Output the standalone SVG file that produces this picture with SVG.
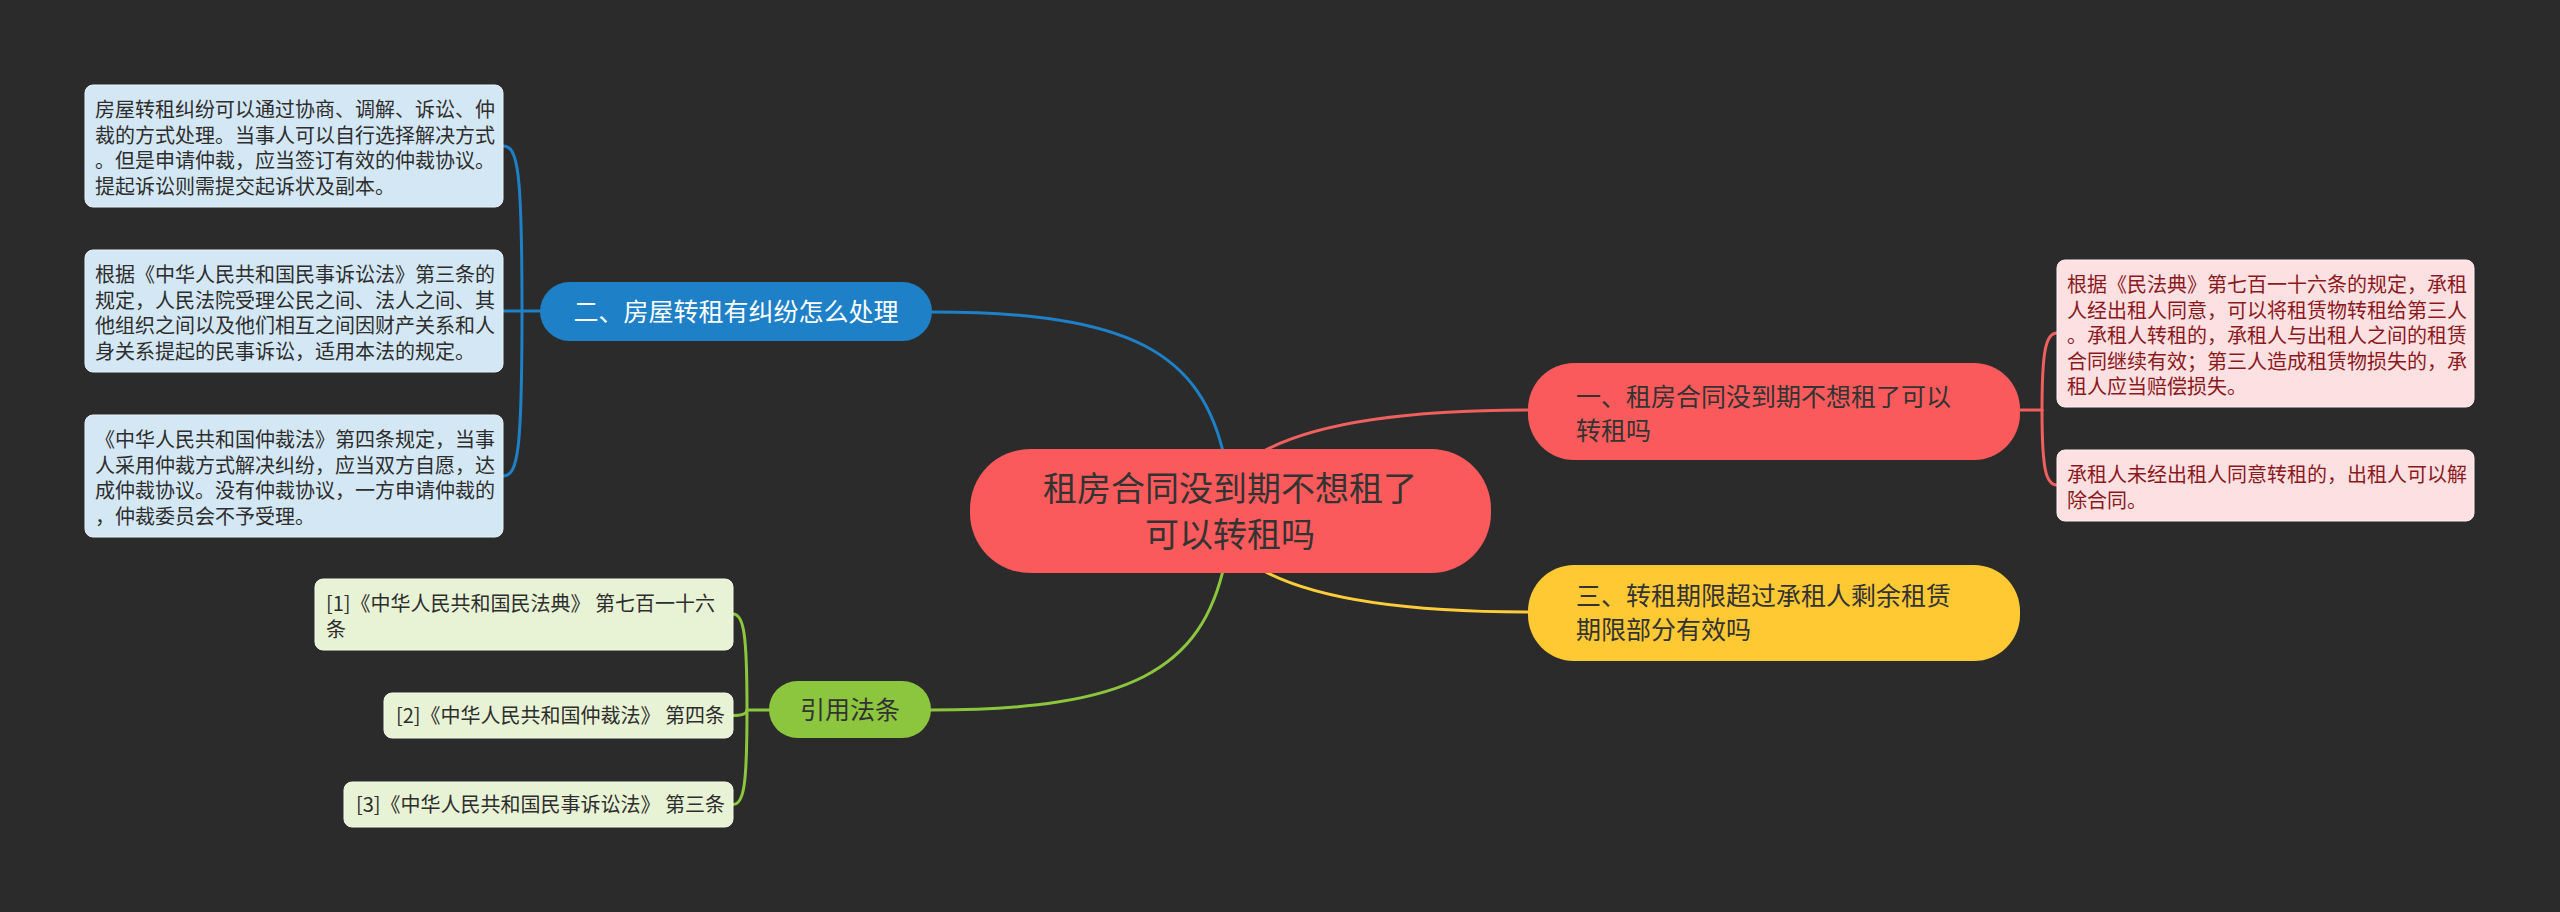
<svg xmlns="http://www.w3.org/2000/svg" width="2560" height="912" viewBox="0 0 2560 912">
<style>
text{font-family:"Noto Sans CJK SC","Noto Sans",sans-serif;}
.con{fill:none;stroke-width:3;stroke-linecap:round;}
.blue{stroke:#1e80c6;}
.red{stroke:#f0605f;}
.yel{stroke:#ffcd3a;}
.grn{stroke:#8cc63e;}
.dt{font-size:20px;fill:#2e2e2e;}
.rt{font-size:20px;fill:#8b1a1f;}
.bt{font-size:25px;}
.lb{fill:#d4e7f4;stroke:#eaf3fa;stroke-width:1;}
.pk{fill:#fde0e1;stroke:#fff0f0;stroke-width:1;}
.lg{fill:#e8f3d5;stroke:#f4f9ea;stroke-width:1;}
</style>
<rect width="2560" height="912" fill="#2b2b2b"/>
<g id="connectors">
<path class="con blue" d="M1225 460 C1202 352 1130 312 932 312"/>
<path class="con grn" d="M1225 562 C1202 670 1130 710 931 710"/>
<path class="con red" d="M1262 452 C1320 420 1420 410 1528 410"/>
<path class="con yel" d="M1262 570 C1320 602 1420 612 1528 612"/>
<path class="con blue" d="M540 311 L503 311"/>
<path class="con blue" d="M522 311 C522 170 518 146 503 146"/>
<path class="con blue" d="M522 311 C522 452 518 476 503 476"/>
<path class="con red" d="M2020 410 L2042 410"/>
<path class="con red" d="M2042 410 C2042 350 2046 333 2057 333"/>
<path class="con red" d="M2042 410 C2042 470 2046 485 2057 485"/>
<path class="con grn" d="M769 710 L747 710"/>
<path class="con grn" d="M747 710 C747 635 744 614 733 614"/>
<path class="con grn" d="M747 710 C747 714 742 715.5 733 715.5"/>
<path class="con grn" d="M747 710 C747 785 744 804.5 733 804.5"/>
</g>
<g id="center">
<rect x="970" y="449" width="521" height="124" rx="60" fill="#fa5a5b"/>
<text x="1230" y="501" font-size="34" fill="#333" text-anchor="middle">租房合同没到期不想租了</text>
<text x="1230" y="547" font-size="34" fill="#333" text-anchor="middle">可以转租吗</text>
</g>
<g id="n2">
<rect x="540" y="282" width="392" height="59" rx="29.5" fill="#1e80c6"/>
<text class="bt" x="736" y="321" fill="#fff" text-anchor="middle">二、房屋转租有纠纷怎么处理</text>
</g>
<g id="n1">
<rect x="1528" y="363" width="492" height="97" rx="46" fill="#fa5a5b"/>
<text class="bt" x="1576" y="406" fill="#333">一、租房合同没到期不想租了可以</text>
<text class="bt" x="1576" y="440" fill="#333">转租吗</text>
</g>
<g id="n3">
<rect x="1528" y="565" width="492" height="96" rx="46" fill="#ffc933"/>
<text class="bt" x="1576" y="605" fill="#333">三、转租期限超过承租人剩余租赁</text>
<text class="bt" x="1576" y="639" fill="#333">期限部分有效吗</text>
</g>
<g id="nref">
<rect x="769" y="681" width="162" height="57" rx="28.5" fill="#8cc63e"/>
<text class="bt" x="850" y="719" fill="#333" text-anchor="middle">引用法条</text>
</g>
<g id="b1">
<rect class="lb" x="85" y="85" width="418" height="122" rx="8"/>
<text class="dt" x="95" y="117">房屋转租纠纷可以通过协商、调解、诉讼、仲</text>
<text class="dt" x="95" y="142.5">裁的方式处理。当事人可以自行选择解决方式</text>
<text class="dt" x="95" y="168">。但是申请仲裁，应当签订有效的仲裁协议。</text>
<text class="dt" x="95" y="193.5">提起诉讼则需提交起诉状及副本。</text>
</g>
<g id="b2">
<rect class="lb" x="85" y="250" width="418" height="122" rx="8"/>
<text class="dt" x="95" y="282">根据《中华人民共和国民事诉讼法》第三条的</text>
<text class="dt" x="95" y="307.5">规定，人民法院受理公民之间、法人之间、其</text>
<text class="dt" x="95" y="333">他组织之间以及他们相互之间因财产关系和人</text>
<text class="dt" x="95" y="358.5">身关系提起的民事诉讼，适用本法的规定。</text>
</g>
<g id="b3">
<rect class="lb" x="85" y="415" width="418" height="122" rx="8"/>
<text class="dt" x="95" y="447">《中华人民共和国仲裁法》第四条规定，当事</text>
<text class="dt" x="95" y="472.5">人采用仲裁方式解决纠纷，应当双方自愿，达</text>
<text class="dt" x="95" y="498">成仲裁协议。没有仲裁协议，一方申请仲裁的</text>
<text class="dt" x="95" y="523.5">，仲裁委员会不予受理。</text>
</g>
<g id="r1">
<rect class="pk" x="2057" y="260" width="417" height="147" rx="8"/>
<text class="rt" x="2067" y="292">根据《民法典》第七百一十六条的规定，承租</text>
<text class="rt" x="2067" y="317.5">人经出租人同意，可以将租赁物转租给第三人</text>
<text class="rt" x="2067" y="343">。承租人转租的，承租人与出租人之间的租赁</text>
<text class="rt" x="2067" y="368.5">合同继续有效；第三人造成租赁物损失的，承</text>
<text class="rt" x="2067" y="394">租人应当赔偿损失。</text>
</g>
<g id="r2">
<rect class="pk" x="2057" y="450" width="417" height="71" rx="8"/>
<text class="rt" x="2067" y="482">承租人未经出租人同意转租的，出租人可以解</text>
<text class="rt" x="2067" y="507.5">除合同。</text>
</g>
<g id="g1">
<rect class="lg" x="315" y="579" width="418" height="71" rx="8"/>
<text class="dt" x="326" y="611">[1]《中华人民共和国民法典》 第七百一十六</text>
<text class="dt" x="326" y="636.5">条</text>
</g>
<g id="g2">
<rect class="lg" x="384" y="693" width="349" height="45" rx="8"/>
<text class="dt" x="725" y="722.5" text-anchor="end">[2]《中华人民共和国仲裁法》 第四条</text>
</g>
<g id="g3">
<rect class="lg" x="344" y="782" width="389" height="45" rx="8"/>
<text class="dt" x="725" y="811.5" text-anchor="end">[3]《中华人民共和国民事诉讼法》 第三条</text>
</g>
</svg>
